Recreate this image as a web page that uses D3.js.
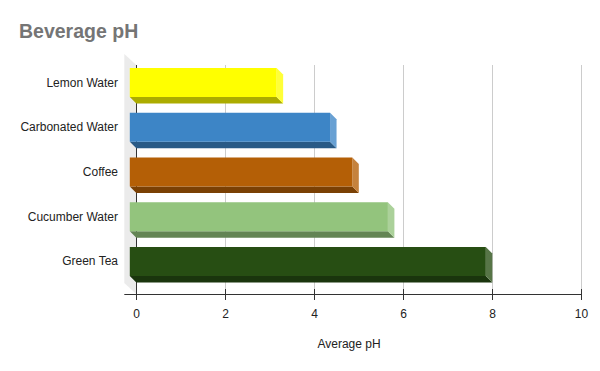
<!DOCTYPE html>
<html>
<head>
<meta charset="utf-8">
<script src="https://cdn.jsdelivr.net/npm/d3@7"></script>
<style>
  body { margin: 0; background: #fff; }
  text { font-family: Arial, "Liberation Sans", sans-serif; }
</style>
</head>
<body>
<div id="chart"></div>
<script>
var categories = ["Lemon Water", "Carbonated Water", "Coffee", "Cucumber Water", "Green Tea"];
var values     = [3.3, 4.5, 5.0, 5.8, 8.0];
var colors     = ["#ffff00", "#3d85c6", "#b45f06", "#93c47d", "#274e13"];
var ticks      = [0, 2, 4, 6, 8, 10];

var width  = 600;
var height = 371;
var depth  = 6.5;   // bar depth
var wall   = 12;    // left wall depth

var svg = d3.select("#chart").append("svg")
  .attr("width", width).attr("height", height);

var x = d3.scaleLinear().domain([0, 10]).range([136.3, 581.3]);
var y = d3.scaleBand().domain(categories).range([52.25, 291.75]).padding(0.352);

var top0 = 65, base = 294;

// title
svg.append("text")
  .attr("x", 19).attr("y", 37.5)
  .attr("font-size", 19.5).attr("font-weight", "bold")
  .attr("fill", "#757575")
  .text("Beverage pH");

// left wall (3d floor of the category axis)
svg.append("polygon")
  .attr("points", [[x(0) - wall, top0 - wall + 1], [x(0), top0], [x(0), base], [x(0) - wall, base - wall + 1]].join(" "))
  .attr("fill", "#ebebeb");

// gridlines
svg.append("g").selectAll("line")
  .data(ticks.filter(function (d) { return d > 0; }))
  .join("line")
  .attr("x1", function (d) { return Math.round(x(d)) + 0.5; })
  .attr("x2", function (d) { return Math.round(x(d)) + 0.5; })
  .attr("y1", top0).attr("y2", base)
  .attr("stroke", "#cccccc");

// zero line
svg.append("line")
  .attr("x1", Math.round(x(0)) + 0.5).attr("x2", Math.round(x(0)) + 0.5)
  .attr("y1", top0).attr("y2", base)
  .attr("stroke", "#333");

// bars
var bars = svg.append("g").selectAll("g")
  .data(categories)
  .join("g");

bars.each(function (c, i) {
  var g  = d3.select(this);
  var col = d3.color(colors[i]);
  var x0 = x(0) - depth, x1 = x(values[i]) - depth;
  var yt = y(c), yb = y(c) + y.bandwidth();

  // bottom face
  g.append("polygon")
    .attr("points", [[x0, yb], [x1, yb], [x1 + depth, yb + depth], [x0 + depth, yb + depth]].join(" "))
    .attr("fill", col.darker(1.1));

  // side face
  g.append("polygon")
    .attr("points", [[x1, yt], [x1 + depth, yt + depth], [x1 + depth, yb + depth], [x1, yb]].join(" "))
    .attr("fill", d3.interpolateRgb(colors[i], "#ffffff")(0.22));

  // front face
  g.append("rect")
    .attr("x", x0).attr("y", yt)
    .attr("width", x1 - x0).attr("height", y.bandwidth())
    .attr("fill", colors[i]);
});

// category labels
svg.append("g").selectAll("text")
  .data(categories)
  .join("text")
  .attr("x", 118)
  .attr("y", function (d) { return y(d) + y.bandwidth() / 2 + 4; })
  .attr("text-anchor", "end")
  .attr("font-size", 12)
  .attr("fill", "#222")
  .text(function (d) { return d; });

// x axis
var axis = svg.append("g").attr("transform", "translate(0," + (base + 0.5) + ")");
axis.append("line")
  .attr("x1", x(0) - wall).attr("x2", x(10) + 0.5)
  .attr("stroke", "#333");

axis.selectAll("line.tick")
  .data(ticks)
  .join("line")
  .attr("class", "tick")
  .attr("x1", function (d) { return Math.round(x(d)) + 0.5; })
  .attr("x2", function (d) { return Math.round(x(d)) + 0.5; })
  .attr("y1", -5.5).attr("y2", 5.5)
  .attr("stroke", "#333");

axis.selectAll("text")
  .data(ticks)
  .join("text")
  .attr("x", function (d) { return Math.round(x(d)) + 0.5; })
  .attr("y", 23)
  .attr("text-anchor", "middle")
  .attr("font-size", 12)
  .attr("fill", "#222")
  .text(function (d) { return d; });

// axis title
svg.append("text")
  .attr("x", 349).attr("y", 347.5)
  .attr("text-anchor", "middle")
  .attr("font-size", 12)
  .attr("fill", "#222")
  .text("Average pH");
</script>
</body>
</html>
